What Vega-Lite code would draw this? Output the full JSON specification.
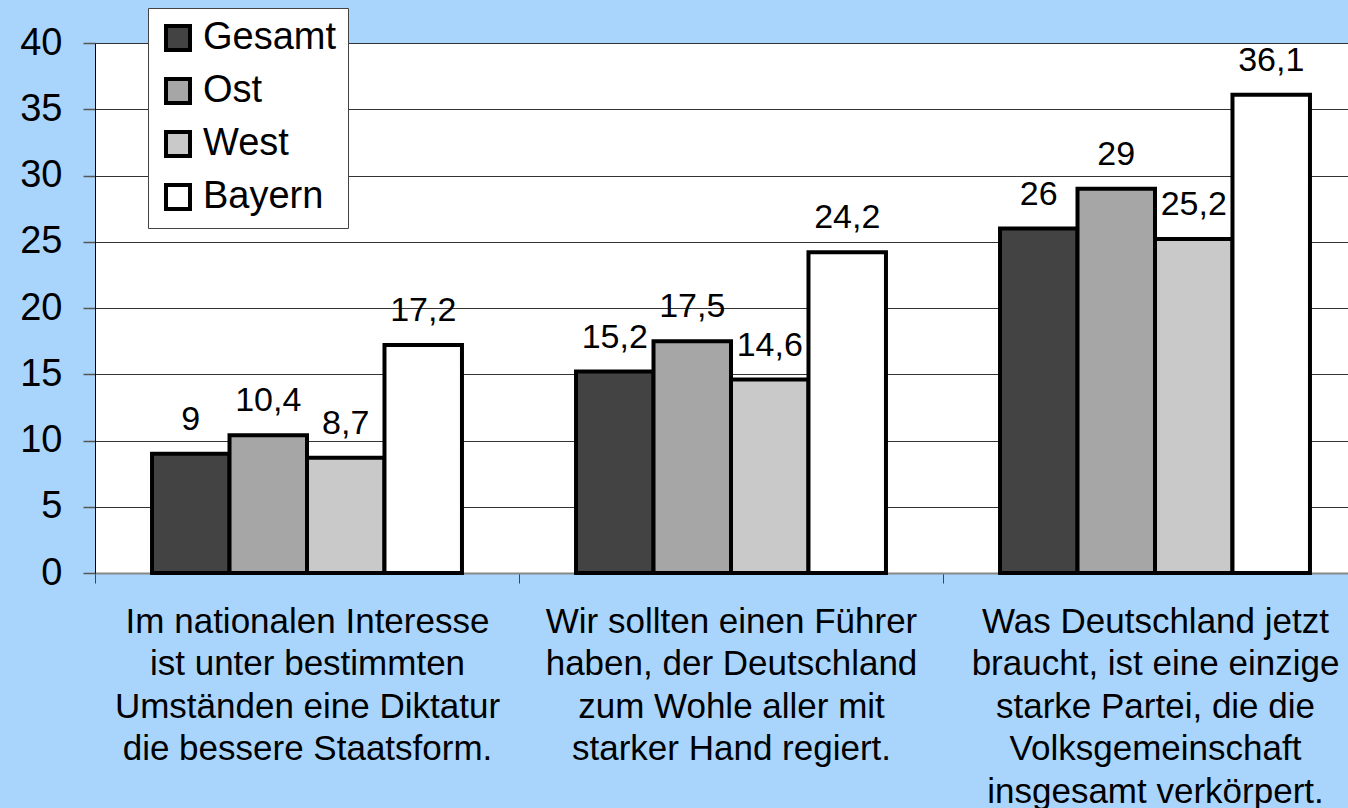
{
  "$schema": "https://vega.github.io/schema/vega-lite/v6.json",
  "width": 1253,
  "height": 530,
  "autosize": {"type": "none"},
  "padding": {"left": 95, "top": 43, "right": 0, "bottom": 235},
  "background": "#a9d5fd",
  "config": {
    "font": "Liberation Sans",
    "view": {"fill": "white", "stroke": null},
    "locale": {"number": {"decimal": ",", "thousands": ".", "grouping": [3], "currency": ["", " €"]}}
  },
  "data": {
    "values": [
      {"frage": "Im nationalen Interesse|ist unter bestimmten|Umständen eine Diktatur|die bessere Staatsform.", "gruppe": "Gesamt", "wert": 9},
      {"frage": "Im nationalen Interesse|ist unter bestimmten|Umständen eine Diktatur|die bessere Staatsform.", "gruppe": "Ost", "wert": 10.4},
      {"frage": "Im nationalen Interesse|ist unter bestimmten|Umständen eine Diktatur|die bessere Staatsform.", "gruppe": "West", "wert": 8.7},
      {"frage": "Im nationalen Interesse|ist unter bestimmten|Umständen eine Diktatur|die bessere Staatsform.", "gruppe": "Bayern", "wert": 17.2},
      {"frage": "Wir sollten einen Führer|haben, der Deutschland|zum Wohle aller mit|starker Hand regiert.", "gruppe": "Gesamt", "wert": 15.2},
      {"frage": "Wir sollten einen Führer|haben, der Deutschland|zum Wohle aller mit|starker Hand regiert.", "gruppe": "Ost", "wert": 17.5},
      {"frage": "Wir sollten einen Führer|haben, der Deutschland|zum Wohle aller mit|starker Hand regiert.", "gruppe": "West", "wert": 14.6},
      {"frage": "Wir sollten einen Führer|haben, der Deutschland|zum Wohle aller mit|starker Hand regiert.", "gruppe": "Bayern", "wert": 24.2},
      {"frage": "Was Deutschland jetzt|braucht, ist eine einzige|starke Partei, die die|Volksgemeinschaft|insgesamt verkörpert.", "gruppe": "Gesamt", "wert": 26},
      {"frage": "Was Deutschland jetzt|braucht, ist eine einzige|starke Partei, die die|Volksgemeinschaft|insgesamt verkörpert.", "gruppe": "Ost", "wert": 29},
      {"frage": "Was Deutschland jetzt|braucht, ist eine einzige|starke Partei, die die|Volksgemeinschaft|insgesamt verkörpert.", "gruppe": "West", "wert": 25.2},
      {"frage": "Was Deutschland jetzt|braucht, ist eine einzige|starke Partei, die die|Volksgemeinschaft|insgesamt verkörpert.", "gruppe": "Bayern", "wert": 36.1}
    ]
  },
  "encoding": {
    "x": {
      "field": "frage",
      "type": "nominal",
      "sort": null,
      "scale": {"range": [0, 1272], "paddingInner": 0, "paddingOuter": 0},
      "axis": {
        "title": null,
        "orient": "bottom",
        "tickBand": "extent",
        "labelExpr": "split(datum.label, '|')",
        "labelFontSize": 35,
        "labelLineHeight": 42.5,
        "labelAngle": 0,
        "labelLimit": 2000,
        "labelPadding": 21,
        "labelBaseline": "top",
        "labelOverlap": false,
        "labelColor": "black",
        "tickSize": 10,
        "tickColor": "#444",
        "tickWidth": 1,
        "domainColor": "#888",
        "domainWidth": 2,
        "grid": false
      }
    },
    "xOffset": {
      "field": "gruppe",
      "type": "nominal",
      "sort": ["Gesamt", "Ost", "West", "Bayern"],
      "scale": {"paddingInner": 0, "paddingOuter": 0.736}
    },
    "y": {
      "field": "wert",
      "type": "quantitative",
      "scale": {"domain": [0, 40], "nice": false},
      "axis": {
        "title": null,
        "values": [0, 5, 10, 15, 20, 25, 30, 35, 40],
        "grid": true,
        "gridColor": "#333",
        "gridWidth": 1,
        "tickSize": 12,
        "tickColor": "#555",
        "tickWidth": 1.5,
        "labelFontSize": 38,
        "labelColor": "black",
        "labelPadding": 21,
        "domainColor": "black",
        "domainWidth": 1
      }
    }
  },
  "layer": [
    {
      "mark": {"type": "bar", "stroke": "black", "strokeWidth": 4},
      "encoding": {
        "color": {
          "field": "gruppe",
          "type": "nominal",
          "sort": ["Gesamt", "Ost", "West", "Bayern"],
          "scale": {"domain": ["Gesamt", "Ost", "West", "Bayern"], "range": ["#434343", "#a6a6a6", "#c9c9c9", "#ffffff"]},
          "legend": {
            "title": null,
            "orient": "none",
            "legendX": 53,
            "legendY": -35,
            "fillColor": "white",
            "strokeColor": "#444",
            "padding": 11,
            "symbolType": "square",
            "symbolSize": 576,
            "symbolStrokeColor": "black",
            "symbolStrokeWidth": 4,
            "symbolOpacity": 1,
            "labelFontSize": 38,
            "labelColor": "black",
            "labelOffset": 6,
            "rowPadding": 13
          }
        }
      }
    },
    {
      "mark": {"type": "text", "baseline": "alphabetic", "dy": -24, "fontSize": 34, "color": "black"},
      "encoding": {
        "text": {"field": "wert", "type": "quantitative", "format": "~g"}
      }
    }
  ]
}
